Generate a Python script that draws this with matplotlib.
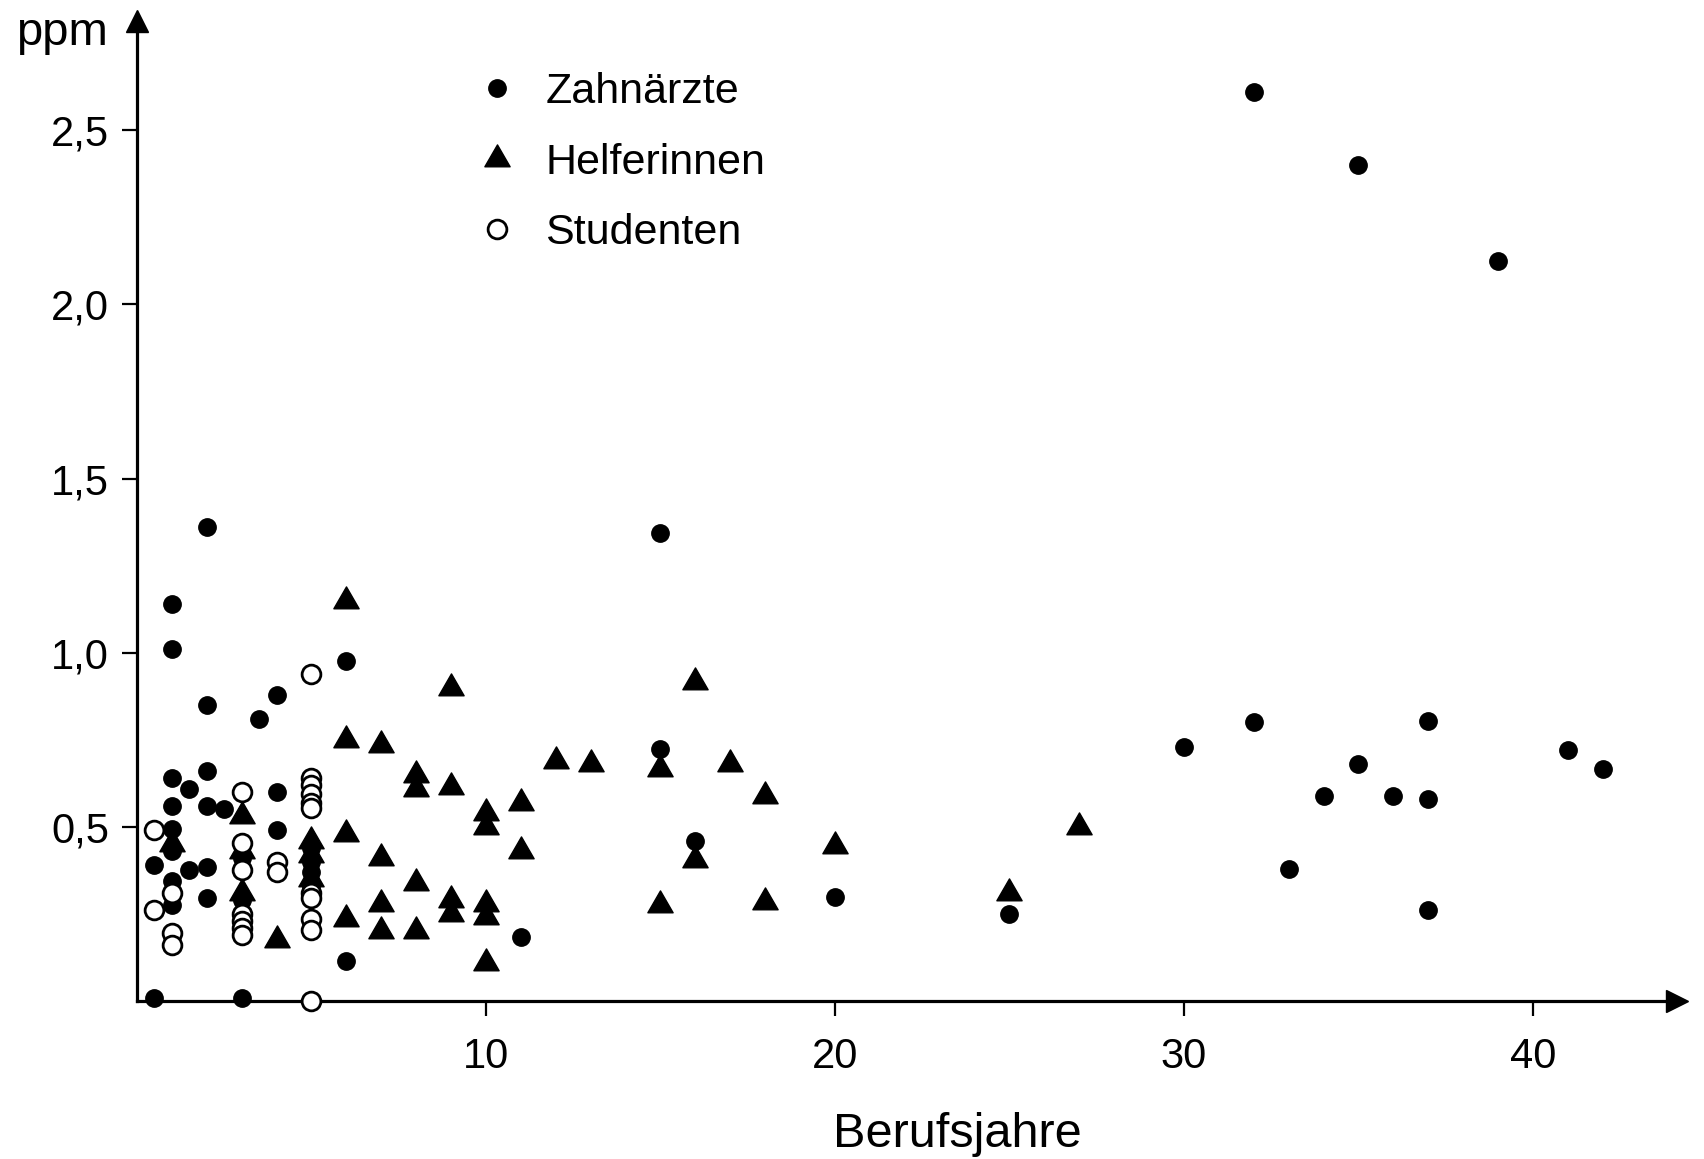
import matplotlib
matplotlib.use("Agg")
import matplotlib.pyplot as plt
from matplotlib.path import Path
from matplotlib.ticker import FuncFormatter

plt.rcParams["font.family"] = ["Liberation Sans", "DejaVu Sans"]

# Berufsjahre (x) and Quecksilber-Konzentration in ppm (y) for each group
zahnaerzte_x = [0.5, 0.5,
                1, 1, 1, 1, 1, 1, 1, 1,
                1.5, 1.5,
                2, 2, 2, 2, 2, 2,
                2.5,
                3, 3, 3,
                3.5,
                4, 4, 4,
                5, 5, 5, 5,
                6, 6,
                11,
                15, 15,
                16,
                20,
                25,
                30,
                32, 32,
                33,
                34,
                35, 35,
                36,
                37, 37, 37,
                39,
                41,
                42]
zahnaerzte_y = [0.39, 0.01,
                1.14, 1.01, 0.64, 0.56, 0.495, 0.43, 0.345, 0.275,
                0.61, 0.375,
                1.36, 0.85, 0.66, 0.56, 0.385, 0.295,
                0.55,
                0.41, 0.29, 0.01,
                0.81,
                0.88, 0.60, 0.49,
                0.44, 0.40, 0.37, 0.33,
                0.975, 0.115,
                0.185,
                1.345, 0.725,
                0.46,
                0.30,
                0.25,
                0.73,
                2.61, 0.80,
                0.38,
                0.59,
                2.40, 0.68,
                0.59,
                0.805, 0.58, 0.26,
                2.125,
                0.72,
                0.665]

helferinnen_x = [1,
                 3, 3, 3,
                 4,
                 5, 5, 5,
                 6, 6, 6, 6,
                 7, 7, 7, 7,
                 8, 8, 8, 8,
                 9, 9, 9, 9,
                 10, 10, 10, 10, 10,
                 11, 11,
                 12,
                 13,
                 15, 15,
                 16, 16,
                 17,
                 18, 18,
                 20,
                 25,
                 27]
helferinnen_y = [0.45,
                 0.53, 0.43, 0.31,
                 0.175,
                 0.46, 0.42, 0.35,
                 1.15, 0.75, 0.48, 0.235,
                 0.735, 0.41, 0.28, 0.20,
                 0.65, 0.61, 0.34, 0.20,
                 0.90, 0.615, 0.29, 0.25,
                 0.54, 0.50, 0.28, 0.24, 0.11,
                 0.57, 0.43,
                 0.69,
                 0.68,
                 0.665, 0.275,
                 0.915, 0.405,
                 0.68,
                 0.59, 0.285,
                 0.445,
                 0.31,
                 0.50]

studenten_x = [0.5, 0.5,
               1, 1, 1,
               3, 3, 3, 3, 3, 3, 3,
               4, 4,
               5, 5, 5, 5, 5, 5, 5, 5, 5, 5, 5]
studenten_y = [0.49, 0.26,
               0.31, 0.195, 0.16,
               0.60, 0.455, 0.375, 0.25, 0.23, 0.21, 0.19,
               0.40, 0.37,
               0.94, 0.64, 0.62, 0.595, 0.57, 0.555, 0.31, 0.295, 0.235, 0.205, 0.0]

group_labels = ["Zahnärzte", "Helferinnen", "Studenten"]
x_ticks = [10, 20, 30, 40]
y_ticks = [0.5, 1.0, 1.5, 2.0, 2.5]

# equilateral triangle centred on its centroid
tri = Path([(-1.0, -0.577), (1.0, -0.577), (0.0, 1.155), (-1.0, -0.577)],
           [Path.MOVETO, Path.LINETO, Path.LINETO, Path.CLOSEPOLY])

fig = plt.figure(figsize=(17.04, 11.59), dpi=100)
ax = fig.add_axes([0.0804, 0.1363, 0.9038, 0.8455])
ax.set_xlim(0, 44.13)
ax.set_ylim(0, 2.8137)

h_tri, = ax.plot(helferinnen_x, helferinnen_y, linestyle="none", marker=tri,
                 markersize=21, color="black", clip_on=False, zorder=3)
h_dot, = ax.plot(zahnaerzte_x, zahnaerzte_y, linestyle="none", marker="o",
                 markersize=12.5, color="black", clip_on=False, zorder=4)
h_open, = ax.plot(studenten_x, studenten_y, linestyle="none", marker="o",
                  markersize=13.5, markerfacecolor="white",
                  markeredgecolor="black", markeredgewidth=2.0,
                  clip_on=False, zorder=5)

# axes with arrow heads
for side in ("top", "right"):
    ax.spines[side].set_visible(False)
for side in ("left", "bottom"):
    ax.spines[side].set_linewidth(2.3)
ax.plot(1, 0, marker=">", markersize=16, color="black",
        transform=ax.transAxes, clip_on=False, zorder=6)
ax.plot(0, 1, marker="^", markersize=16, color="black",
        transform=ax.transAxes, clip_on=False, zorder=6)

ax.set_xticks(x_ticks)
ax.set_yticks(y_ticks)
ax.yaxis.set_major_formatter(FuncFormatter(lambda v, p: f"{v:.1f}".replace(".", ",")))
ax.tick_params(axis="both", direction="out", length=11, width=1.6,
               labelsize=30, colors="black")
ax.tick_params(axis="x", pad=15)
ax.tick_params(axis="y", pad=9)

ax.text(-0.0187, 0.976, "ppm", transform=ax.transAxes, ha="right",
        va="baseline", fontsize=34)
ax.text(0.533, -0.136, "Berufsjahre", transform=ax.transAxes, ha="center",
        va="center", fontsize=35)

ax.legend([h_dot, h_tri, h_open], group_labels, loc="upper left",
          bbox_to_anchor=(0.2198, 0.948), frameon=False, fontsize=31,
          borderaxespad=0, borderpad=0, handlelength=1.0,
          handletextpad=0.62, labelspacing=0.71, numpoints=1)

fig.savefig("out.png", dpi=100, facecolor="white")
